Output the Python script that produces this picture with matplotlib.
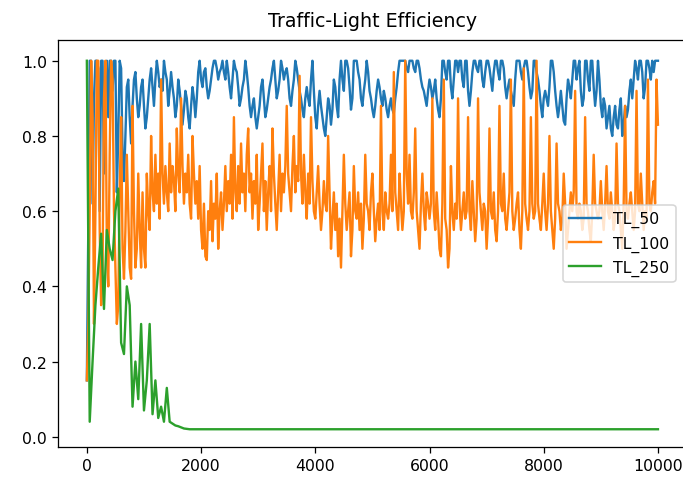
import numpy as np
import matplotlib
matplotlib.use("Agg")
import matplotlib.pyplot as plt

title = "Traffic-Light Efficiency"
labels = ["TL_50", "TL_100", "TL_250"]
t_max = 10000

tl_50 = [
    0.15, 0.55, 1.0, 1.0, 0.62, 0.9, 1.0, 1.0, 0.98, 0.6, 1.0, 1.0, 0.7, 0.95, 1.0, 0.85, 1.0, 1.0, 0.92, 1.0,
    1.0, 0.65, 0.8, 1.0, 0.98, 0.75, 0.68, 0.8, 0.93, 0.95, 0.85, 0.78, 0.88, 0.95, 0.97, 0.9, 0.85, 0.88, 0.93, 0.95,
    0.88, 0.82, 0.85, 0.9, 0.95, 0.98, 0.93, 0.88, 0.95, 1.0, 0.97, 0.93, 0.95, 0.92, 1.0, 0.97, 0.95, 0.88, 0.92, 0.97,
    0.93, 0.9, 0.85, 0.88, 0.95, 0.92, 0.88, 0.83, 0.87, 0.92, 0.9, 0.85, 0.82, 0.88, 0.93, 0.9, 0.85, 0.9, 0.97, 1.0,
    0.95, 0.93, 0.97, 0.98, 0.93, 0.9, 0.92, 0.95, 0.98, 1.0, 1.0, 0.98, 0.95, 0.97, 0.98, 1.0, 0.97, 0.95, 1.0, 0.97,
    0.93, 0.9, 0.95, 1.0, 0.98, 0.97, 0.93, 0.88, 0.9, 0.93, 0.95, 1.0, 0.97, 0.93, 0.88, 0.85, 0.88, 0.9, 0.85, 0.82,
    0.85, 0.88, 0.93, 0.95, 0.9, 0.85, 0.87, 0.9, 0.93, 0.95, 0.98, 1.0, 0.95, 0.9, 0.92, 0.95, 1.0, 0.98, 0.95, 0.97,
    0.98, 0.95, 0.9, 0.88, 0.92, 0.95, 1.0, 0.98, 0.95, 0.92, 0.9, 0.87, 0.85, 0.9, 0.93, 0.9, 0.88, 0.95, 1.0, 0.92,
    0.85, 0.82, 0.88, 0.92, 0.88, 0.85, 0.82, 0.8, 0.85, 0.9, 0.88, 0.83, 0.87, 0.95, 0.93, 0.88, 0.85, 0.95, 1.0, 0.95,
    0.92, 1.0, 1.0, 0.98, 0.93, 0.87, 0.9, 1.0, 1.0, 1.0, 0.97, 0.95, 0.9, 0.88, 0.92, 0.95, 1.0, 0.97, 0.92, 0.9,
    0.87, 0.85, 0.88, 0.92, 0.95, 0.93, 0.9, 0.88, 0.92, 0.9, 0.87, 0.85, 0.88, 0.9, 0.87, 0.86, 0.9, 0.93, 0.97, 1.0,
    1.0, 1.0, 1.0, 1.0, 0.98, 0.97, 1.0, 1.0, 1.0, 0.98, 0.97, 1.0, 1.0, 0.98, 0.95, 0.93, 0.92, 0.9, 0.88, 0.92,
    0.95, 0.93, 0.9, 0.92, 0.95, 0.9, 0.87, 0.85, 0.9, 1.0, 1.0, 0.97, 0.95, 1.0, 1.0, 0.93, 0.9, 0.95, 1.0, 1.0,
    0.97, 1.0, 1.0, 0.95, 0.93, 1.0, 1.0, 0.92, 0.88, 0.92, 0.97, 1.0, 1.0, 0.98, 0.97, 1.0, 1.0, 0.95, 0.93, 0.97,
    1.0, 1.0, 0.98, 0.95, 0.92, 0.97, 1.0, 1.0, 0.97, 0.95, 1.0, 1.0, 0.98, 0.93, 0.9, 0.93, 0.95, 0.92, 0.9, 0.88,
    0.95, 1.0, 1.0, 1.0, 0.97, 0.95, 0.98, 1.0, 1.0, 0.97, 0.93, 0.9, 0.92, 1.0, 1.0, 0.97, 0.95, 0.92, 0.88, 0.85,
    0.9, 0.92, 0.9, 0.88, 0.93, 1.0, 1.0, 0.97, 0.92, 0.88, 0.85, 0.88, 0.92, 0.88, 0.84, 0.83, 0.9, 0.95, 0.93, 0.9,
    0.95, 1.0, 1.0, 0.95, 0.98, 1.0, 0.92, 0.88, 0.9, 1.0, 1.0, 0.95, 0.92, 1.0, 1.0, 0.93, 0.88, 0.92, 1.0, 0.95,
    0.88, 0.85, 0.9, 0.88, 0.82, 0.85, 0.88, 0.82, 0.8, 0.85, 0.88, 0.83, 0.82, 0.87, 0.9, 0.8, 0.83, 0.88, 0.85, 0.87,
    0.92, 0.95, 0.9, 0.95, 1.0, 0.98, 0.95, 1.0, 1.0, 0.97, 0.9, 0.93, 1.0, 1.0, 0.98, 0.95, 1.0, 0.97, 1.0, 1.0,
    1.0,
]

tl_100 = [
    0.15, 0.3, 0.6, 1.0, 0.85, 0.3, 0.6, 1.0, 1.0, 0.55, 0.35, 0.45, 0.9, 1.0, 0.5, 0.4, 0.75, 1.0, 0.95, 0.6,
    0.45, 0.3, 0.35, 0.65, 0.85, 0.5, 0.42, 0.55, 0.75, 0.6, 0.45, 0.42, 0.88, 0.6, 0.45, 0.5, 0.7, 0.55, 0.45, 0.65,
    0.5, 0.45, 0.7, 0.6, 0.55, 0.8, 0.65, 0.6, 0.75, 0.62, 0.7, 0.58, 0.95, 0.7, 0.62, 0.72, 0.65, 0.6, 0.78, 0.65,
    0.72, 0.68, 0.6, 0.82, 0.7, 0.65, 0.9, 0.72, 0.62, 0.7, 0.65, 0.75, 0.62, 0.58, 0.8, 0.7, 0.62, 0.68, 0.58, 0.72,
    0.55, 0.5, 0.62, 0.48, 0.47, 0.6, 0.55, 0.68, 0.52, 0.62, 0.58, 0.7, 0.5, 0.6, 0.65, 0.55, 0.62, 0.72, 0.6, 0.68,
    0.62, 0.75, 0.58, 0.85, 0.65, 0.6, 0.72, 0.62, 0.78, 0.65, 0.7, 0.6, 0.75, 0.82, 0.65, 0.7, 0.58, 0.68, 0.62, 0.75,
    0.55, 0.62, 0.7, 0.78, 0.6, 0.68, 0.55, 0.65, 0.72, 0.6, 0.82, 0.7, 0.62, 0.55, 0.65, 0.75, 0.6, 0.7, 0.65, 0.72,
    0.88, 0.7, 0.65, 0.6, 0.72, 0.8, 0.65, 0.72, 0.68, 0.96, 0.7, 0.62, 0.75, 0.65, 0.58, 0.7, 0.62, 0.85, 0.68, 0.6,
    0.58, 0.65, 0.72, 0.62, 0.55, 0.6, 0.68, 0.62, 0.6, 0.8, 0.65, 0.5, 0.58, 0.65, 0.55, 0.62, 0.48, 0.58, 0.45, 0.6,
    0.75, 0.62, 0.55, 0.6, 0.65, 0.48, 0.55, 0.72, 0.6, 0.58, 0.65, 0.55, 0.62, 0.5, 0.58, 0.75, 0.62, 0.6, 0.55, 0.65,
    0.7, 0.6, 0.52, 0.58, 0.62, 0.55, 0.88, 0.6, 0.55, 0.65, 0.6, 0.58, 0.62, 0.75, 0.6, 0.97, 0.65, 0.6, 0.55, 0.7,
    0.62, 0.55, 0.6, 1.0, 0.7, 0.62, 0.75, 0.6, 0.58, 0.65, 0.82, 0.6, 0.55, 0.5, 0.62, 0.7, 0.6, 0.55, 0.65, 0.62,
    0.58, 0.62, 0.9, 0.6, 0.55, 0.65, 0.58, 0.5, 0.48, 0.62, 0.95, 0.58, 0.55, 0.45, 0.5, 0.72, 0.6, 0.55, 0.62, 0.58,
    0.9, 0.62, 0.55, 0.6, 0.65, 0.58, 0.6, 0.85, 0.6, 0.55, 0.68, 0.6, 0.52, 0.58, 0.9, 0.65, 0.6, 0.55, 0.62, 0.6,
    0.5, 0.58, 0.82, 0.6, 0.58, 0.65, 0.55, 0.52, 0.6, 0.88, 0.62, 0.6, 0.7, 0.58, 0.55, 0.6, 0.65, 0.95, 0.6, 0.55,
    0.58, 0.62, 0.65, 0.55, 0.5, 0.6, 0.98, 0.62, 0.58, 0.55, 0.6, 0.85, 0.62, 0.58, 0.6, 1.0, 0.62, 0.58, 0.55, 0.62,
    0.7, 0.6, 0.55, 0.62, 0.8, 0.6, 0.55, 0.5, 0.58, 0.78, 0.62, 0.6, 0.55, 0.58, 0.7, 0.62, 0.5, 0.55, 0.6, 0.65,
    0.6, 0.65, 0.92, 0.6, 0.58, 0.62, 0.6, 0.55, 0.58, 0.85, 0.62, 0.6, 0.55, 0.52, 0.6, 0.75, 0.62, 0.6, 0.58, 0.6,
    0.68, 0.6, 0.55, 0.62, 0.72, 0.6, 0.58, 0.65, 0.6, 0.55, 0.58, 0.78, 0.62, 0.6, 0.55, 0.5, 0.62, 0.88, 0.6, 0.58,
    0.62, 0.65, 0.6, 0.55, 0.6, 0.92, 0.62, 0.6, 0.7, 0.62, 0.55, 0.6, 0.58, 0.95, 0.62, 0.6, 0.65, 0.68, 0.62, 0.95,
    0.83,
]

tl_250_head = [
    1.0, 0.04, 0.2, 0.35, 0.45, 0.54, 0.34, 0.55, 0.5, 0.47,
    0.6, 0.66, 0.25, 0.22, 0.4, 0.35, 0.08, 0.2, 0.1, 0.3,
    0.07, 0.15, 0.3, 0.06, 0.15, 0.05, 0.08, 0.04, 0.13, 0.04,
    0.035, 0.03, 0.028, 0.025, 0.022, 0.021, 0.02,
]
tl_250_tail = [0.02] * 164
tl_250 = tl_250_head + tl_250_tail

series = [tl_50, tl_100, tl_250]

W, H = 683, 480
dpi = 113.8
fig = plt.figure(figsize=(W / dpi, H / dpi), dpi=dpi)
ax = fig.add_axes([58.3 / W, (H - 448.3) / H, (686.5 - 58.3) / W, (448.3 - 40.7) / H])

for vals, lab in zip(series, labels):
    x = np.linspace(0, t_max, len(vals))
    ax.plot(x, vals, label=lab)

ax.set_xlim(-500, 10500)
ax.set_ylim(-0.028, 1.056)
ax.set_title(title, pad=8.5)
ax.legend(loc="center right", borderaxespad=0.5 + 3.0 / 15.8)

fig.savefig("out.png", dpi=dpi)
